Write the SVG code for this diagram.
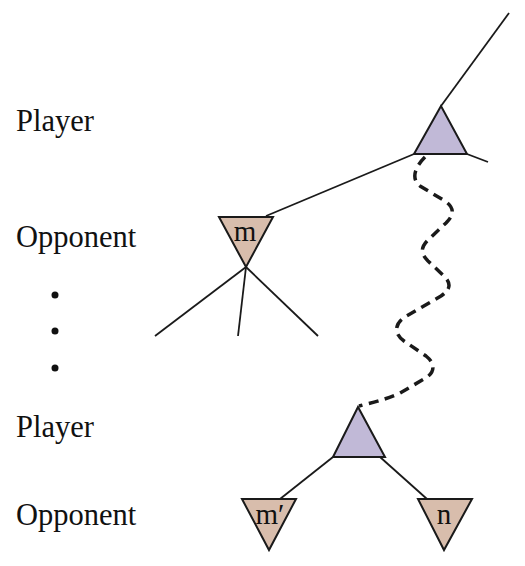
<svg xmlns="http://www.w3.org/2000/svg" width="525" height="566" viewBox="0 0 525 566">
<style>
.lbl{font-family:"Liberation Serif","Times New Roman",serif;font-size:30.5px;fill:#111}
.in{font-family:"Liberation Serif","Times New Roman",serif;font-size:29px;fill:#111;text-anchor:middle}
.max{fill:#c1b9d7;stroke:#1a1a1a;stroke-width:2;stroke-linejoin:miter}
.min{fill:#d8bdac;stroke:#1a1a1a;stroke-width:2}
.edge{stroke:#1a1a1a;stroke-width:1.8;fill:none}
.wave{stroke:#1a1a1a;stroke-width:3.5;fill:none;stroke-dasharray:10 6.5}
</style>
<rect width="525" height="566" fill="#fff"/>
<g id="labels">
<text class="lbl" x="16" y="131">Player</text>
<text class="lbl" x="16" y="247">Opponent</text>
<text class="lbl" x="16" y="437">Player</text>
<text class="lbl" x="16" y="525">Opponent</text>
<circle cx="55" cy="295" r="3.5" fill="#111"/>
<circle cx="55" cy="331" r="3.5" fill="#111"/>
<circle cx="55" cy="368" r="3.5" fill="#111"/>
</g>
<g id="connectors">
<line class="edge" x1="441" y1="106" x2="509" y2="13"/>
<line class="edge" x1="467" y1="154" x2="488" y2="162"/>
<line class="edge" x1="414" y1="154" x2="266" y2="216"/>
<line class="edge" x1="246" y1="267" x2="155" y2="336"/>
<line class="edge" x1="246" y1="267" x2="238" y2="336"/>
<line class="edge" x1="246" y1="267" x2="318" y2="336"/>
<line class="edge" x1="333" y1="457" x2="280" y2="499"/>
<line class="edge" x1="380" y1="457" x2="427" y2="499"/>
<path class="wave" d="M 425 157 C 416 166, 410 178, 420 186 L 445 201 C 456 209, 453 216, 446 223 L 428 240 C 420 248, 421 254, 428 261 L 444 276 C 452 284, 450 290, 441 296 L 405 317 C 394 324, 394 334, 404 341 L 426 356 C 436 364, 435 373, 424 379 L 400 393 C 385 400, 370 403, 359 406"/>
</g>
<g id="player1">
<polygon class="max" points="441,106 414,154 467,154"/>
</g>
<g id="opponent-m">
<polygon class="min" points="219,217 273,217 246,267"/>
<text class="in" x="245" y="241">m</text>
</g>
<g id="player2">
<polygon class="max" points="358,407 333,457 385,457"/>
</g>
<g id="opponent-m-prime">
<polygon class="min" points="242,499 296,499 269,550"/>
<text class="in" x="270" y="524">m′</text>
</g>
<g id="opponent-n">
<polygon class="min" points="418,499 472,499 444,550"/>
<text class="in" x="444" y="524">n</text>
</g>
</svg>
